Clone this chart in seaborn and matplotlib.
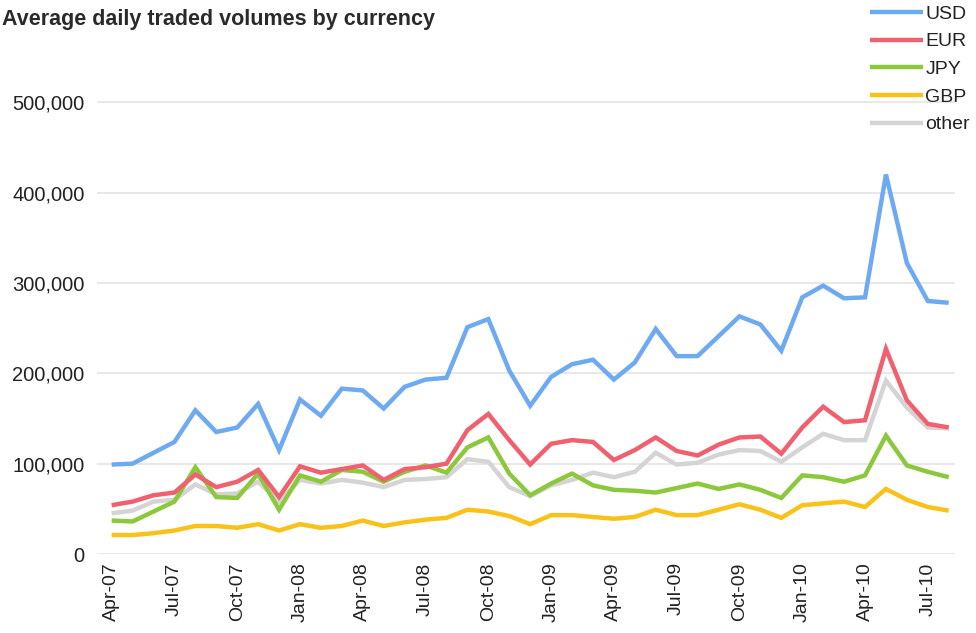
import matplotlib
matplotlib.use("Agg")
import matplotlib.pyplot as plt
import seaborn as sns
import pandas as pd
from matplotlib.ticker import FuncFormatter

# Monthly observations, Apr-07 .. Aug-10
months = pd.date_range("2007-04-01", "2010-08-01", freq="MS").strftime("%b-%y").tolist()

usd = [99000, 100000, 112000, 124000, 159000, 135000, 140000, 166000, 115000, 171000,
       153000, 183000, 181000, 161000, 185000, 193000, 195000, 251000, 260000, 203000,
       164000, 196000, 210000, 215000, 193000, 212000, 249000, 219000, 219000, 241000,
       263000, 254000, 225000, 284000, 297000, 283000, 284000, 420000, 322000, 280000,
       278000]
eur = [54000, 58000, 65000, 68000, 88000, 74000, 80000, 93000, 63000, 97000,
       90000, 94000, 98000, 82000, 94000, 96000, 100000, 137000, 155000, 126000,
       99000, 122000, 126000, 124000, 104000, 115000, 129000, 114000, 109000, 121000,
       129000, 130000, 111000, 140000, 163000, 146000, 148000, 227000, 170000, 144000,
       140000]
jpy = [37000, 36000, 47000, 58000, 96000, 63000, 62000, 89000, 49000, 87000,
       80000, 93000, 91000, 80000, 91000, 98000, 90000, 118000, 129000, 89000,
       65000, 78000, 89000, 76000, 71000, 70000, 68000, 73000, 78000, 72000,
       77000, 71000, 62000, 87000, 85000, 80000, 87000, 131000, 98000, 91000,
       85000]
gbp = [21000, 21000, 23000, 26000, 31000, 31000, 29000, 33000, 26000, 33000,
       29000, 31000, 37000, 31000, 35000, 38000, 40000, 49000, 47000, 42000,
       33000, 43000, 43000, 41000, 39000, 41000, 49000, 43000, 43000, 49000,
       55000, 49000, 40000, 54000, 56000, 58000, 52000, 72000, 60000, 52000,
       48000]
other = [45000, 48000, 58000, 60000, 77000, 66000, 67000, 80000, 58000, 82000,
         78000, 82000, 79000, 74000, 82000, 83000, 85000, 105000, 102000, 74000,
         64000, 76000, 82000, 90000, 85000, 91000, 112000, 99000, 101000, 110000,
         115000, 114000, 102000, 118000, 133000, 126000, 126000, 192000, 162000, 140000,
         139000]

currencies = ["USD", "EUR", "JPY", "GBP", "other"]
colors = ["#6eaaf2", "#f0606e", "#8cc83c", "#f8c21a", "#d4d4d4"]

series = {"USD": usd, "EUR": eur, "JPY": jpy, "GBP": gbp, "other": other}
frames = []
for name in currencies:
    frames.append(pd.DataFrame({"idx": range(len(months)), "month": months,
                                "volume": series[name], "currency": name}))
df = pd.concat(frames, ignore_index=True)

sns.set_theme(style="white")
plt.rcParams["font.family"] = ["Liberation Sans", "DejaVu Sans"]

W, H = 976, 633
fig = plt.figure(figsize=(W / 100, H / 100), dpi=100)
ax = fig.add_axes([97 / W, (H - 554) / H, (955 - 97) / W, (554 - 57) / H])

# draw "other" first so the coloured lines sit on top of it
draw_order = ["other", "GBP", "JPY", "EUR", "USD"]
pal = dict(zip(currencies, colors))
for name in draw_order:
    sub = df[df["currency"] == name]
    sns.lineplot(data=sub, x="idx", y="volume", color=pal[name], linewidth=3.2,
                 ax=ax, label=name, solid_joinstyle="miter", solid_capstyle="butt")

ax.set_xlim(-0.7, 40.3)
ax.set_ylim(0, 550000)
ax.set_yticks([0, 100000, 200000, 300000, 400000, 500000])
ax.yaxis.set_major_formatter(FuncFormatter(lambda v, p: f"{int(v):,}"))
tick_idx = list(range(0, len(months), 3))
ax.set_xticks(tick_idx)
ax.set_xticklabels([months[i] for i in tick_idx], rotation=90)
ax.tick_params(axis="y", labelsize=14.5, pad=9, length=0, colors="#222222")
ax.tick_params(axis="x", labelsize=14, pad=6, length=0, colors="#222222")
ax.set_xlabel("")
ax.set_ylabel("")
ax.grid(axis="y", color="#e4e4e4", linewidth=1.2)
ax.grid(axis="x", visible=False)
for s in ax.spines.values():
    s.set_visible(False)

handles, labels = ax.get_legend_handles_labels()
order = [labels.index(c) for c in currencies]
leg = ax.legend([handles[i] for i in order], [labels[i] for i in order],
                loc="upper left", bbox_to_anchor=(870 / W, 1 - 5 / H),
                bbox_transform=fig.transFigure, frameon=False, fontsize=14,
                handlelength=2.7, handletextpad=0.15, labelspacing=0.52,
                borderpad=0, borderaxespad=0)
for line in leg.get_lines():
    line.set_linewidth(3.2)
for t in leg.get_texts():
    t.set_color("#222222")

fig.text(2 / W, 1 - 20 / H, "Average daily traded volumes by currency",
         fontsize=15.5, fontweight="bold", color="#2a2a2a", ha="left", va="center")

fig.savefig("out.png", dpi=100)
